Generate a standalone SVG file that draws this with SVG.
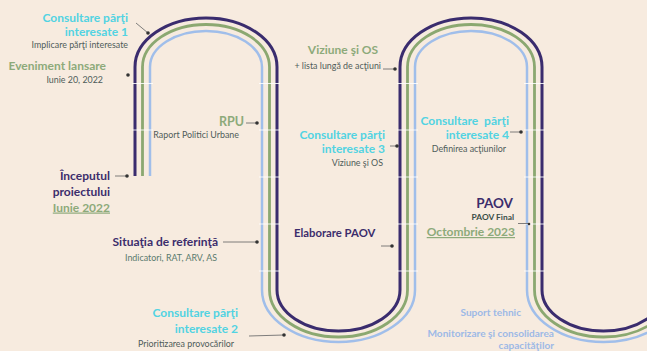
<svg xmlns="http://www.w3.org/2000/svg" width="647" height="351" viewBox="0 0 647 351">
<style>
text{font-family:Lato,"Open Sans","Liberation Sans",sans-serif}
.h{font-weight:bold;font-size:12px}
.cy{fill:#52D3E2}
.gr{fill:#8DAA7A}
.pu{fill:#3C2D6C}
.lb{fill:#9DB9E6;font-weight:bold;font-size:10.1px}
.s{font-size:8.9px;fill:#4F5C5A}
.trk{fill:none}
.conn{stroke:#707070;stroke-width:0.9;fill:none}
.dot{fill:#333}
</style>
<rect width="647" height="351" fill="#F7EBDF"/>
<g id="track">
<path class="trk" stroke="#3A2C6E" stroke-width="3" d="M135 176 V67 A71 49 0 0 1 277 67 V290 A61.5 41 0 0 0 400 290 V67 A71 49 0 0 1 542 67 V290 A61.5 41 0 0 0 665 290"/>
<path class="trk" stroke="#8BA871" stroke-width="2.8" d="M142.5 176 V67 A63.5 42.5 0 0 1 269.5 67 V290 A69 47 0 0 0 407.5 290 V67 A63.5 42.5 0 0 1 534.5 67 V290 A69 47 0 0 0 672.5 290"/>
<path class="trk" stroke="#A0BEEA" stroke-width="2.5" d="M150 176 V67 A56 36 0 0 1 262 67 V290 A76.5 52 0 0 0 415 290 V67 A56 36 0 0 1 527 67 V290 A76.5 52 0 0 0 680 290"/>
<path stroke="#FFFFFF" stroke-opacity="0.85" stroke-width="1" fill="none" d="M132 83.5h21 M132 130h21 M259 83.5h21 M259 130h21 M259 177h21 M259 224h21 M259 271h21 M397 83.5h21 M397 130h21 M397 177h21 M397 224h21 M397 271h21 M524 83.5h21 M524 130h21 M524 177h21 M524 224h21 M524 271h21"/>
</g>
<g id="connectors">
<path class="conn" d="M136 23 L148 33"/><circle class="dot" cx="148" cy="33" r="1.8"/>
<circle class="dot" cx="128" cy="75" r="1.8"/>
<path class="conn" d="M115 176 H127"/><circle class="dot" cx="127" cy="176" r="1.8"/>
<path class="conn" d="M223 242 H257"/><circle class="dot" cx="257" cy="242" r="1.8"/>
<path class="conn" d="M249 336 L284 335"/><circle class="dot" cx="284" cy="335" r="1.8"/>
<path class="conn" d="M246 123 H257"/><circle class="dot" cx="257" cy="123" r="1.8"/>
<path class="conn" d="M383 69 H394"/><circle class="dot" cx="395" cy="69" r="1.8"/>
<path class="conn" d="M390 146 H397"/><circle class="dot" cx="397" cy="146" r="1.8"/>
<path class="conn" d="M510 132 H521"/><circle class="dot" cx="521" cy="132" r="1.8"/>
<path class="conn" d="M518 223.5 H528"/><circle class="dot" cx="529" cy="224" r="1.3"/>
<path class="conn" d="M381 246 H392"/><circle class="dot" cx="392" cy="246" r="1.8"/>
</g>
<g id="consultare1" text-anchor="end">
<text class="h cy" x="128" y="22">Consultare părţi</text>
<text class="h cy" x="128" y="36">interesate 1</text>
<text class="s" x="128" y="48">Implicare părţi interesate</text>
</g>
<g id="eveniment" text-anchor="end">
<text class="h gr" x="106" y="70">Eveniment lansare</text>
<text class="s" x="103" y="83">Iunie 20, 2022</text>
</g>
<g id="inceput" text-anchor="end">
<text class="h pu" x="110" y="179.5">Începutul</text>
<text class="h pu" x="110" y="195.5">proiectului</text>
<text class="h gr" x="110" y="211.5" text-decoration="underline">Iunie 2022</text>
</g>
<g id="situatia" text-anchor="end">
<text class="h pu" x="218" y="246">Situaţia de referinţă</text>
<text class="s" x="217" y="261" style="fill:#5A7A6E">Indicatori, RAT, ARV, AS</text>
</g>
<g id="consultare2" text-anchor="end">
<text class="h cy" x="238" y="317">Consultare părţi</text>
<text class="h cy" x="238" y="333">interesate 2</text>
<text class="s" x="234" y="347">Prioritizarea provocărilor</text>
</g>
<g id="rpu" text-anchor="end">
<text class="h gr" x="244" y="126" style="font-size:12.5px">RPU</text>
<text class="s" x="239" y="138.2">Raport Politici Urbane</text>
</g>
<g id="viziune">
<text class="h gr" x="343" y="54" text-anchor="middle">Viziune şi OS</text>
<text class="s" x="381" y="69" text-anchor="end">+ lista lungă de acţiuni</text>
</g>
<g id="consultare3" text-anchor="end">
<text class="h cy" x="385" y="139">Consultare părţi</text>
<text class="h cy" x="385" y="153">interesate 3</text>
<text class="s" x="383" y="166">Viziune şi OS</text>
</g>
<g id="consultare4" text-anchor="end">
<text class="h cy" x="509" y="125">Consultare&#160; părţi</text>
<text class="h cy" x="509" y="139">interesate 4</text>
<text class="s" x="506" y="152">Definirea acţiunilor</text>
</g>
<g id="paov" text-anchor="end">
<text class="h pu" x="513" y="208" style="font-size:13.5px">PAOV</text>
<text class="s" x="514" y="220" style="font-weight:bold;font-size:8.4px;fill:#3A4E48">PAOV Final</text>
<text class="h gr" x="515" y="236" text-decoration="underline">Octombrie 2023</text>
</g>
<g id="elaborare">
<text class="h pu" x="294" y="237" style="font-size:11.3px">Elaborare PAOV</text>
</g>
<g id="suport">
<text class="lb" x="521" y="316" text-anchor="end">Suport tehnic</text>
<text class="lb" x="554" y="337" text-anchor="end">Monitorizare şi consolidarea</text>
<text class="lb" x="554" y="349" text-anchor="end">capacităţilor</text>
</g>
</svg>
